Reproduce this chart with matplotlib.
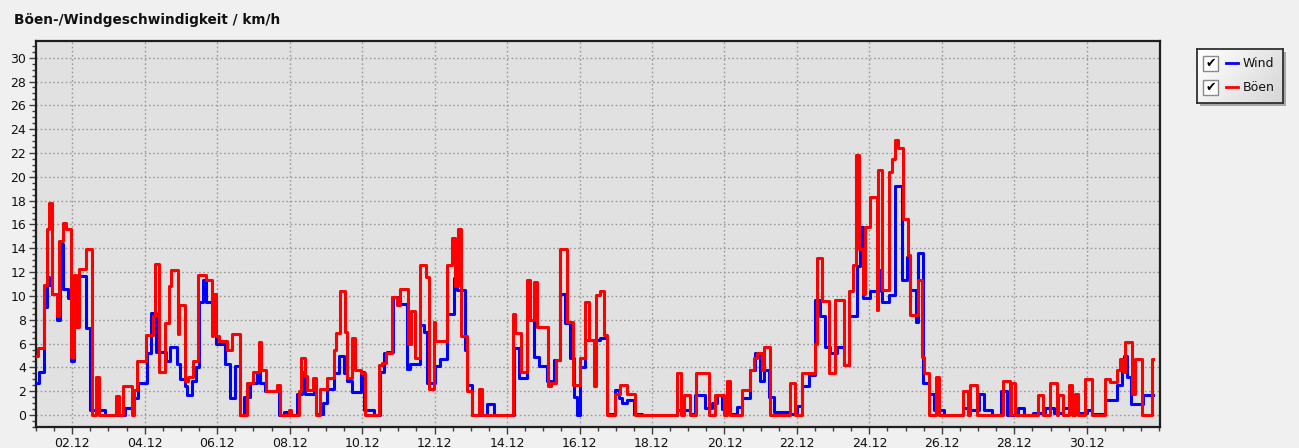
import numpy as np
import matplotlib.pyplot as plt
from matplotlib.patches import Rectangle
from matplotlib.ticker import MultipleLocator

# hours since 01.12 00:00 where the value changes (step data)
gust_h = [0, 1.5, 5.2, 7.0, 8.7, 10.3, 14.0, 15.3, 17.6, 20.2, 23.5, 25.0, 26.8, 28.6, 33.0, 36.8,
          40.0, 41.8, 53.0, 55.0, 57.7, 63.5, 65.0, 66.6, 72.7, 77.5, 79.0, 81.6, 85.3, 88.2, 89.7,
          94.0, 95.0, 98.6, 100.8, 104.0, 107.4, 112.9, 116.5, 117.5, 119.0, 121.1, 126.6, 129.9,
          135.0, 140.0, 143.8, 147.6, 149.1, 152.5, 159.7, 161.5, 167.4, 169.0, 174.1, 175.6, 178.5,
          179.6, 183.5, 185.5, 188.4, 192.8, 197.2, 199.0, 201.2, 205.0, 206.0, 209.4, 211.0, 215.0,
          218.2, 227.0, 229.2, 232.0, 235.8, 239.2, 241.4, 246.2, 248.4, 251.3, 254.2, 258.0, 260.1,
          263.4, 264.5, 272.3, 275.6, 277.8, 279.3, 281.5, 285.5, 288.8, 293.2, 295.4, 315.7, 317.5,
          321.3, 325.2, 327.4, 329.7, 331.8, 339.0, 341.1, 344.6, 347.3, 351.7, 355.7, 360.6, 363.8,
          366.0, 369.4, 371.1, 373.8, 376.0, 378.2, 383.7, 387.0, 391.4, 396.9, 424.5, 427.2, 429.4,
          432.9, 437.3, 445.5, 449.9, 455.4, 458.0, 460.0, 467.6, 473.1, 475.7, 477.5, 480.8, 481.9,
          486.3, 499.6, 502.9, 507.3, 516.1, 517.2, 520.5, 525.0, 529.4, 534.9, 538.6, 541.0, 543.3,
          545.2, 547.7, 549.2, 552.5, 557.0, 558.0, 560.3, 565.3, 566.9, 569.1, 571.0, 574.6, 577.9,
          579.0, 584.5, 586.7, 588.5, 591.8, 596.2, 597.8, 614.3, 617.0, 618.5, 623.2, 640.8, 645.0,
          646.0, 648.3, 664.0, 667.3, 671.7, 676.1, 677.2, 680.5, 684.5, 686.0, 688.3, 690.5, 694.9,
          699.3, 708.1, 711.4, 715.8, 718.0, 719.8, 721.4, 725.8, 728.0, 732.4, 739.0, 740.0]
gust_v = [5.0, 5.6, 10.9, 15.6, 17.8, 10.2, 8.3, 14.6, 16.1, 15.6, 4.9, 11.8, 7.4, 12.3, 13.9, 0,
          3.2, 0, 1.6, 0, 2.4, 0, 2.1, 4.5, 6.7, 8.3, 12.7, 3.6, 7.7, 10.8, 12.2,
          6.8, 9.2, 2.9, 3.2, 4.5, 11.8, 11.3, 6.6, 10.2, 6.6, 6.2, 5.5, 6.8,
          0, 2.7, 3.6, 6.1, 3.8, 2.0, 2.5, 0, 0.4, 0, 2.0, 4.8, 3.3,
          2.1, 3.1, 0, 2.2, 3.1, 5.5, 6.9, 10.4, 7.0, 3.1, 6.5, 3.8, 3.5,
          0, 4.2, 4.4, 5.2, 9.9, 9.2, 10.6, 6.0, 8.7, 4.8, 12.6, 11.6, 2.2,
          7.8, 6.2, 12.6, 14.9, 10.8, 15.6, 6.6, 2.0, 0, 2.2, 0, 8.5, 6.9,
          3.6, 11.3, 8.0, 11.2, 7.4, 2.4, 2.7, 4.6, 13.9, 7.8, 2.5, 4.8, 9.5,
          6.3, 2.4, 10.1, 10.4, 6.7, 0, 1.8, 2.5, 1.8, 0, 3.5, 0, 1.7,
          0, 3.5, 0, 1.7, 0, 2.9, 0, 2.1, 3.8, 4.8, 5.2, 3.8, 5.7,
          0, 2.7, 0, 3.5, 6.0, 13.2, 9.6, 3.5, 9.7, 4.2, 10.4, 12.6, 21.8,
          13.9, 10.2, 15.8, 18.3, 8.8, 20.6, 10.5, 20.4, 21.5, 23.1, 22.4, 16.5, 13.4,
          8.4, 11.3, 4.9, 3.5, 0, 3.2, 0, 2.0, 0, 2.5, 0, 2.9, 0,
          2.7, 0, 1.7, 0, 2.7, 0, 1.7, 0, 2.5, 0, 1.8, 0, 3.0,
          0, 3.0, 2.8, 3.8, 4.7, 3.6, 6.1, 1.8, 4.7, 0, 4.7, 4.7]

wind_h = [0, 2.1, 5.2, 7.0, 8.7, 10.3, 14.0, 15.8, 17.6, 21.3, 23.5, 25.0, 28.6, 33.0, 35.7, 45.6,
          58.8, 63.3, 67.7, 73.2, 76.5, 79.8, 86.4, 88.7, 93.1, 95.3, 98.6, 99.7, 103.0, 106.3, 108.0,
          110.7, 112.5, 117.3, 119.0, 125.5, 128.8, 131.5, 135.0, 137.6, 142.0, 146.5, 148.7, 152.0,
          160.8, 164.1, 168.5, 173.0, 176.3, 178.5, 184.0, 185.5, 190.0, 192.8, 197.2, 200.5, 204.0,
          206.0, 209.4, 215.0, 217.0, 223.7, 228.1, 230.3, 232.5, 236.5, 239.6, 245.8, 248.0, 254.6,
          256.8, 259.0, 264.5, 267.8, 272.3, 276.7, 278.9, 284.4, 285.5, 288.8, 298.7, 303.2, 316.4,
          319.7, 325.2, 327.4, 329.7, 333.0, 338.5, 342.9, 347.3, 350.6, 353.9, 356.1, 358.3, 360.5,
          363.8, 373.8, 378.2, 383.7, 385.9, 388.1, 391.4, 395.8, 401.4, 424.5, 433.4, 436.7, 443.3,
          447.7, 451.0, 454.3, 458.7, 464.3, 467.6, 473.1, 476.4, 479.7, 481.9, 485.2, 488.5, 499.6,
          504.0, 507.3, 511.7, 516.1, 519.4, 522.7, 526.1, 530.5, 534.9, 538.2, 543.7, 545.5, 548.0,
          552.5, 558.7, 560.3, 565.3, 569.1, 573.5, 576.8, 579.0, 583.0, 584.0, 587.4, 591.8, 594.5,
          601.1, 614.3, 617.6, 624.3, 627.6, 633.1, 639.5, 643.0, 650.7, 654.1, 660.7, 668.4, 674.0,
          680.5, 689.4, 696.0, 699.3, 708.1, 715.8, 719.2, 720.7, 722.5, 725.1, 733.5, 740.0]
wind_v = [2.7, 3.6, 9.1, 11.6, 10.9, 10.2, 8.0, 14.4, 10.6, 9.8, 4.5, 9.8, 11.7, 7.3, 0.4, 0,
          0.6, 1.4, 2.7, 5.2, 8.6, 5.3, 4.5, 5.7, 4.3, 3.0, 2.4, 1.7, 2.9, 4.0, 9.5,
          11.3, 9.5, 7.4, 6.0, 4.3, 1.4, 4.1, 0, 1.5, 2.7, 3.6, 2.7, 2.0,
          0, 0.3, 0, 1.8, 3.6, 1.8, 2.9, 0.1, 1.0, 2.2, 3.5, 5.0, 3.5,
          2.9, 1.9, 3.6, 0.4, 0, 3.6, 5.2, 5.3, 9.9, 9.3, 3.9, 4.3, 7.6,
          7.0, 2.7, 4.1, 4.7, 8.5, 11.5, 10.5, 5.5, 2.5, 0, 0.9, 0, 5.6,
          3.1, 11.1, 8.0, 4.9, 4.1, 2.9, 4.6, 10.2, 7.7, 4.8, 1.5, 0, 4.0,
          6.3, 6.5, 0.1, 2.1, 1.4, 1.0, 1.3, 0.1, 0, 0.4, 0.1, 1.7, 0.6,
          1.0, 1.7, 0.5, 0.1, 0.7, 1.4, 3.8, 5.2, 2.9, 3.8, 1.5, 0.3, 0.1,
          0.8, 2.4, 3.4, 9.7, 8.3, 5.7, 5.2, 5.7, 4.2, 8.3, 12.5, 15.8, 9.8,
          10.4, 12.2, 9.5, 10.1, 19.2, 11.3, 13.3, 10.5, 7.8, 13.6, 2.7, 1.8, 0.4,
          0, 0.6, 0.4, 1.8, 0.4, 0, 2.0, 0, 0.6, 0, 0.2, 0.6, 0.2,
          0.6, 0.2, 0.4, 0.1, 1.3, 2.5, 3.8, 5.0, 3.2, 0.9, 1.7, 1.7]

tick_days = list(range(2, 31, 2))
tick_labels = ['%02d.12' % d for d in tick_days]

bg = '#f0f0f0'
fig = plt.figure(figsize=(12.99, 4.48), dpi=100, facecolor=bg)
ax = fig.add_axes([36/1299, 1 - 427/448, 1124/1299, 386/448])
ax.set_facecolor('#e1e1e1')

wx = 1 + np.array(wind_h) / 24
gx = 1 + np.array(gust_h) / 24
ax.step(wx, wind_v, where='post', color='#0000ff', lw=2.2, zorder=3)
ax.step(gx, gust_v, where='post', color='#ff0000', lw=2.2, zorder=4)

ax.set_xlim(1, 1 + 744.5/24)
ax.set_ylim(-1.0, 31.4)
ax.set_xticks(tick_days)
ax.set_xticklabels(tick_labels)
ax.xaxis.set_minor_locator(MultipleLocator(0.5))
ax.set_yticks(range(0, 31, 2))
ax.yaxis.set_minor_locator(MultipleLocator(0.5))
ax.tick_params(which='major', length=5, width=1, color='#404040', labelsize=9,
               labelcolor='#111111', pad=2)
ax.tick_params(which='minor', length=3, width=1, color='#404040')
ax.grid(which='major', color='#9a9a9a', linestyle=(0, (1.2, 1.8)), lw=1)
ax.set_axisbelow(True)
for s in ax.spines.values():
    s.set_color('#1e1e1e')
    s.set_linewidth(1.6)

fig.text(14/1299, 1 - 20/448, 'Böen-/Windgeschwindigkeit / km/h', fontsize=9.8,
         fontweight='bold', color='#111111', va='center', ha='left')

# legend box with shadow
sh = fig.add_axes([1200/1299, 342/448, 86/1299, 54/448])
sh.set_facecolor('#a8a8a8')
sh.set_xticks([]); sh.set_yticks([])
for s in sh.spines.values():
    s.set_visible(False)
lax = fig.add_axes([1197/1299, 345/448, 86/1299, 54/448])
gx_, gy_ = np.meshgrid(np.linspace(0, 1, 50), np.linspace(0, 1, 20))
grad = 1.0 - 0.16 * (0.7 * gx_ + 0.3 * gy_)
lax.imshow(grad, cmap='gray', vmin=0, vmax=1, extent=[0, 86, 0, 54], aspect='auto', origin='upper')
lax.set_xlim(0, 86); lax.set_ylim(0, 54)
lax.set_xticks([]); lax.set_yticks([])
for s in lax.spines.values():
    s.set_color('#303030')
    s.set_linewidth(1.3)

entries = [('Wind', '#0000ff', 39.5), ('Böen', '#ff0000', 15.5)]
for name, col, yc in entries:
    lax.add_patch(Rectangle((6, yc - 7.5), 15, 15, facecolor='white', edgecolor='#8a8a8a', lw=1))
    lax.text(13.5, yc, '✔', fontsize=9, ha='center', va='center', color='black')
    lax.plot([29, 41], [yc, yc], color=col, lw=2)
    lax.text(46, yc, name, fontsize=9, ha='left', va='center', color='#111111')

fig.savefig('out.png', dpi=100, facecolor=bg)
